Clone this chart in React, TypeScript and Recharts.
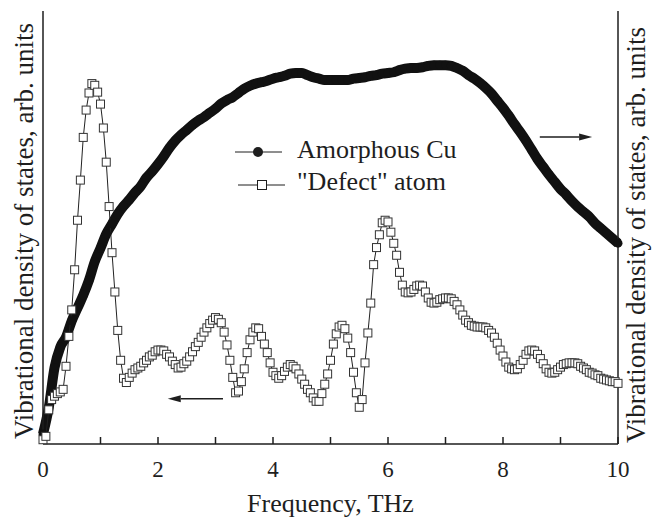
import React from 'react';
import { LineChart, Line, XAxis, YAxis, ReferenceLine, Legend } from 'recharts';

// frequency grid step (THz) of the "defect" atom curve; Cu curve is on every other point
const STEP = 0.05;

// "Defect" atom VDOS (left axis), one value per 0.05 THz from 0 to 10
const defectDos = [
  0.05, 0.09, 0.40, 0.52, 0.56, 0.59, 0.61, 0.64, 0.91, 1.26,
  1.57, 2.04, 2.62, 3.09, 3.59, 3.91, 4.11, 4.22, 4.20, 4.12,
  3.98, 3.70, 3.30, 2.78, 2.24, 1.78, 1.33, 0.98, 0.77, 0.72,
  0.78, 0.83, 0.87, 0.89, 0.91, 0.95, 0.98, 1.02, 1.04, 1.08,
  1.10, 1.10, 1.09, 1.05, 1.02, 0.97, 0.93, 0.89, 0.90, 0.94,
  0.97, 1.02, 1.08, 1.14, 1.19, 1.25, 1.31, 1.36, 1.41, 1.45,
  1.48, 1.46, 1.42, 1.31, 1.16, 0.98, 0.78, 0.60, 0.62, 0.73,
  0.88, 1.07, 1.22, 1.31, 1.36, 1.35, 1.26, 1.17, 1.07, 0.95,
  0.84, 0.80, 0.77, 0.80, 0.85, 0.90, 0.93, 0.91, 0.88, 0.82,
  0.76, 0.70, 0.64, 0.60, 0.54, 0.50, 0.50, 0.59, 0.70, 0.82,
  0.98, 1.17, 1.29, 1.37, 1.39, 1.35, 1.24, 1.07, 0.84, 0.60,
  0.43, 0.52, 0.95, 1.30, 1.65, 2.10, 2.30, 2.45, 2.59, 2.62,
  2.60, 2.48, 2.35, 2.21, 2.01, 1.86, 1.78, 1.77, 1.78, 1.81,
  1.85, 1.86, 1.85, 1.78, 1.71, 1.66, 1.65, 1.66, 1.69, 1.70,
  1.71, 1.71, 1.70, 1.67, 1.63, 1.57, 1.51, 1.45, 1.42, 1.39,
  1.38, 1.37, 1.37, 1.37, 1.36, 1.33, 1.30, 1.25, 1.18, 1.10,
  1.03, 0.96, 0.90, 0.88, 0.87, 0.88, 0.93, 0.98, 1.05, 1.09,
  1.10, 1.09, 1.05, 1.00, 0.94, 0.88, 0.84, 0.83, 0.84, 0.87,
  0.90, 0.93, 0.94, 0.95, 0.95, 0.95, 0.94, 0.91, 0.89, 0.87,
  0.84, 0.83, 0.81, 0.80, 0.77, 0.76, 0.75, 0.74, 0.73, 0.73,
  0.71,
];

// amorphous Cu VDOS (right axis), one value per 0.1 THz from 0 to 10
const cuDos = [
  0.14, 0.51, 1.07, 1.36, 1.50, 1.73, 1.91, 2.09, 2.30, 2.56,
  2.75, 2.95, 3.09, 3.23, 3.34, 3.43, 3.53, 3.62, 3.74, 3.83,
  3.93, 4.04, 4.16, 4.26, 4.34, 4.41, 4.48, 4.54, 4.59, 4.65,
  4.71, 4.78, 4.83, 4.87, 4.93, 4.99, 5.03, 5.06, 5.08, 5.10,
  5.13, 5.15, 5.17, 5.20, 5.21, 5.21, 5.18, 5.15, 5.13, 5.11,
  5.11, 5.11, 5.11, 5.11, 5.13, 5.14, 5.15, 5.17, 5.18, 5.20,
  5.21, 5.22, 5.25, 5.27, 5.28, 5.28, 5.29, 5.31, 5.32, 5.32,
  5.32, 5.31, 5.28, 5.24, 5.18, 5.13, 5.07, 5.00, 4.92, 4.82,
  4.72, 4.61, 4.49, 4.38, 4.26, 4.13, 4.00, 3.89, 3.78, 3.68,
  3.58, 3.50, 3.41, 3.33, 3.26, 3.19, 3.10, 3.03, 2.96, 2.89,
  2.82,
];

const xTicks = [0, 1, 2, 3, 4, 5, 6, 7, 8, 9, 10];
const leftTicks = [0, 1, 2, 3, 4, 5];
const rightTicks = [0, 1, 2, 3, 4, 5, 6];

// arrows pointing to the axis each curve belongs to
const leftArrow = { from: 3.13, to: 2.17, y: 0.53 };
const rightArrow = { from: 8.64, to: 9.55, y: 4.31 };

const data = defectDos.map((d, i) => ({
  f: +(i * STEP).toFixed(2),
  defect: d,
  cu: i % 2 === 0 ? cuDos[i / 2] : null,
}));

const INK = '#1e1e1e';
const FONT = '"Liberation Serif", "Times New Roman", serif';

const SquareDot = (props: any) => {
  const { cx, cy, index } = props;
  if (cx == null || cy == null) return null;
  return (
    <rect key={index} x={cx - 4} y={cy - 4} width={8} height={8}
      fill="#fff" stroke="#333" strokeWidth={1} />
  );
};

const Arrow = (props: any) => {
  const { x1, y1, x2, y2 } = props;
  const dir = x2 > x1 ? 1 : -1;
  const hx = x2 - dir * 13;
  return (
    <g>
      <line x1={x1} y1={y1} x2={hx} y2={y2} stroke={INK} strokeWidth={1.5} />
      <polygon points={`${x2},${y2} ${hx},${y2 - 3.5} ${hx},${y2 + 3.5}`} fill={INK} />
    </g>
  );
};

const LegendBox = () => (
  <svg width={240} height={72} style={{ display: 'block', fontFamily: FONT }}>
    <line x1={5} y1={22} x2={52} y2={22} stroke={INK} strokeWidth={1} />
    <circle cx={28} cy={22} r={5} fill={INK} />
    <text x={67} y={28} fontSize={26} fill={INK}>Amorphous Cu</text>
    <line x1={8} y1={55} x2={55} y2={55} stroke={INK} strokeWidth={1} />
    <rect x={27.5} y={50.5} width={9} height={9} fill="#fff" stroke={INK} strokeWidth={1} />
    <text x={67} y={60} fontSize={26} fill={INK}>&quot;Defect&quot; atom</text>
  </svg>
);

const yTitle = 'Vibrational density of states, arb. units';

export default function App() {
  return (
    <div style={{ position: 'absolute', left: 0, top: 0, width: 653, height: 519, background: '#fff' }}>
      <LineChart width={653} height={519} data={data}
        margin={{ top: 11, right: 0, bottom: 0, left: 0 }}
        style={{ fontFamily: FONT }}>
        <XAxis type="number" dataKey="f" domain={[0, 10]} ticks={xTicks} interval={0}
          height={75} tickSize={-7} tickMargin={24}
          stroke={INK} strokeWidth={1.5}
          tick={{ fontSize: 23, fill: INK, fontFamily: FONT }}
          tickFormatter={(v: number) => (v % 2 === 0 ? String(v) : '')}
          label={{
            content: () => (
              <text x={330.5} y={512} textAnchor="middle" fontSize={26} fill={INK} fontFamily={FONT}>
                Frequency, THz
              </text>
            ),
          }} />
        <YAxis yAxisId="left" orientation="left" width={43} domain={[0, 5.07]}
          ticks={leftTicks} interval={0} tickSize={-7} tick={false}
          stroke={INK} strokeWidth={1.5}
          label={{
            content: () => (
              <text transform="translate(33, 231) rotate(-90)" textAnchor="middle"
                fontSize={27} fill={INK} fontFamily={FONT}>{yTitle}</text>
            ),
          }} />
        <YAxis yAxisId="right" orientation="right" width={35} domain={[0, 6.08]}
          ticks={rightTicks} interval={0} tickSize={-7} tick={false}
          stroke={INK} strokeWidth={1.5}
          label={{
            content: () => (
              <text transform="translate(645, 235) rotate(-90)" textAnchor="middle"
                fontSize={27} fill={INK} fontFamily={FONT}>{yTitle}</text>
            ),
          }} />
        <Line yAxisId="right" type="monotone" dataKey="cu" connectNulls
          stroke="#111" strokeWidth={10} dot={{ r: 4.5, fill: '#111', stroke: 'none' }}
          isAnimationActive={false} />
        <Line yAxisId="left" type="linear" dataKey="defect"
          stroke="#222" strokeWidth={1} dot={<SquareDot />}
          isAnimationActive={false} />
        <ReferenceLine yAxisId="left"
          segment={[{ x: leftArrow.from, y: leftArrow.y }, { x: leftArrow.to, y: leftArrow.y }]}
          shape={<Arrow />} />
        <ReferenceLine yAxisId="right"
          segment={[{ x: rightArrow.from, y: rightArrow.y }, { x: rightArrow.to, y: rightArrow.y }]}
          shape={<Arrow />} />
        <Legend layout="horizontal" verticalAlign="middle" align="center"
          wrapperStyle={{ left: 230, top: 130, width: 240, height: 72 }}
          content={() => <LegendBox />} />
      </LineChart>
    </div>
  );
}
